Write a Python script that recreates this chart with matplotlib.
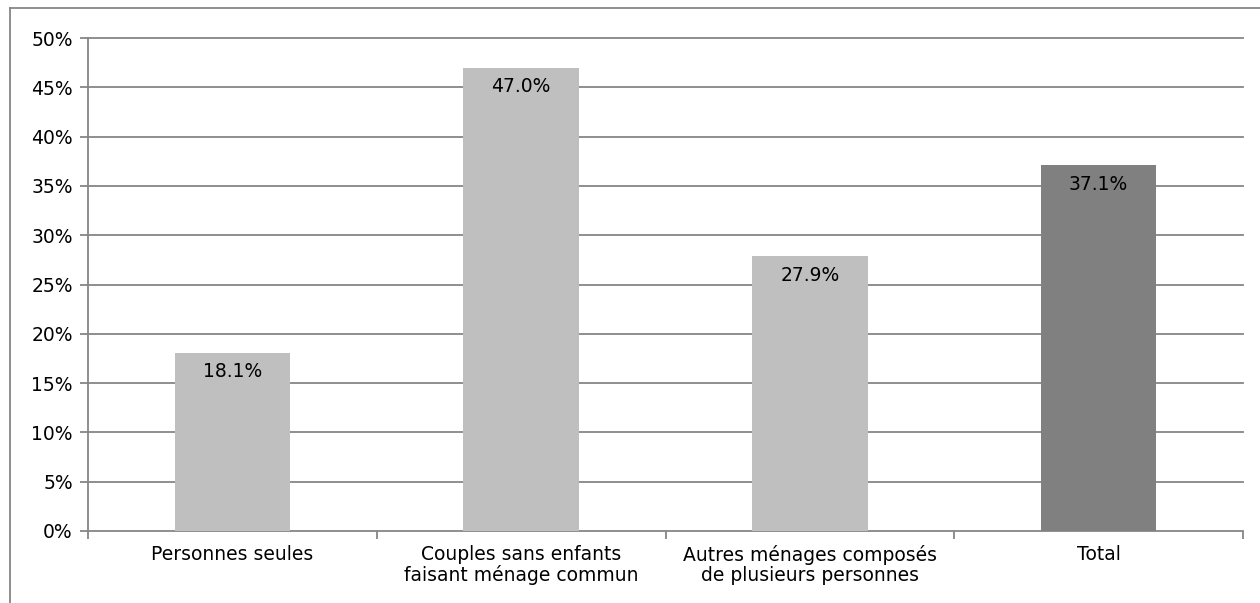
import matplotlib.pyplot as plt
from matplotlib.lines import Line2D
import numpy as np

categories = ['Personnes seules', 'Couples sans enfants\nfaisant ménage commun',
              'Autres ménages composés\nde plusieurs personnes', 'Total']
values = [18.1, 47.0, 27.9, 37.1]
colors = ['#bfbfbf', '#bfbfbf', '#bfbfbf', '#808080']

fig = plt.figure(figsize=(12.6, 6.03), dpi=100)
ax = fig.add_axes([88 / 1260, 1 - 531 / 603, (1243 - 88) / 1260, (531 - 38) / 603])

x = np.arange(len(categories))
bars = ax.bar(x, values, width=0.4, color=colors, zorder=3)

for xi, v in zip(x, values):
    ax.text(xi, v - 1.95, f'{v:.1f}%', ha='center', va='center', fontsize=13.5, color='black', zorder=4)

ax.set_xlim(-0.5, len(categories) - 0.5)
ax.set_ylim(0, 50)
ax.set_yticks(np.arange(0, 51, 5))
ax.set_yticklabels([f'{t}%' for t in range(0, 51, 5)], fontsize=13.5)
for t in range(5, 51, 5):
    ax.axhline(t, color='#868686', linewidth=1.3, zorder=0, clip_on=False)

ax.set_xticks(x)
ax.set_xticklabels(categories, fontsize=13.5, linespacing=1.1)
ax.set_xticks(np.arange(-0.5, len(categories), 1), minor=True)
ax.tick_params(axis='x', which='major', length=0, pad=10)
ax.tick_params(axis='x', which='minor', length=6, color='#868686', width=1.3)
ax.tick_params(axis='y', length=6, color='#868686', width=1.3, pad=5)

for side in ['top', 'right']:
    ax.spines[side].set_visible(False)
for side in ['left', 'bottom']:
    ax.spines[side].set_color('#868686')
    ax.spines[side].set_linewidth(1.3)

# outer chart frame (left and top edges visible)
fig.add_artist(Line2D([10 / 1260, 10 / 1260], [0, 1 - 8 / 603], color='#868686', linewidth=1.3))
fig.add_artist(Line2D([10 / 1260, 1], [1 - 8 / 603, 1 - 8 / 603], color='#868686', linewidth=1.3))

fig.savefig('out.png', dpi=100)
